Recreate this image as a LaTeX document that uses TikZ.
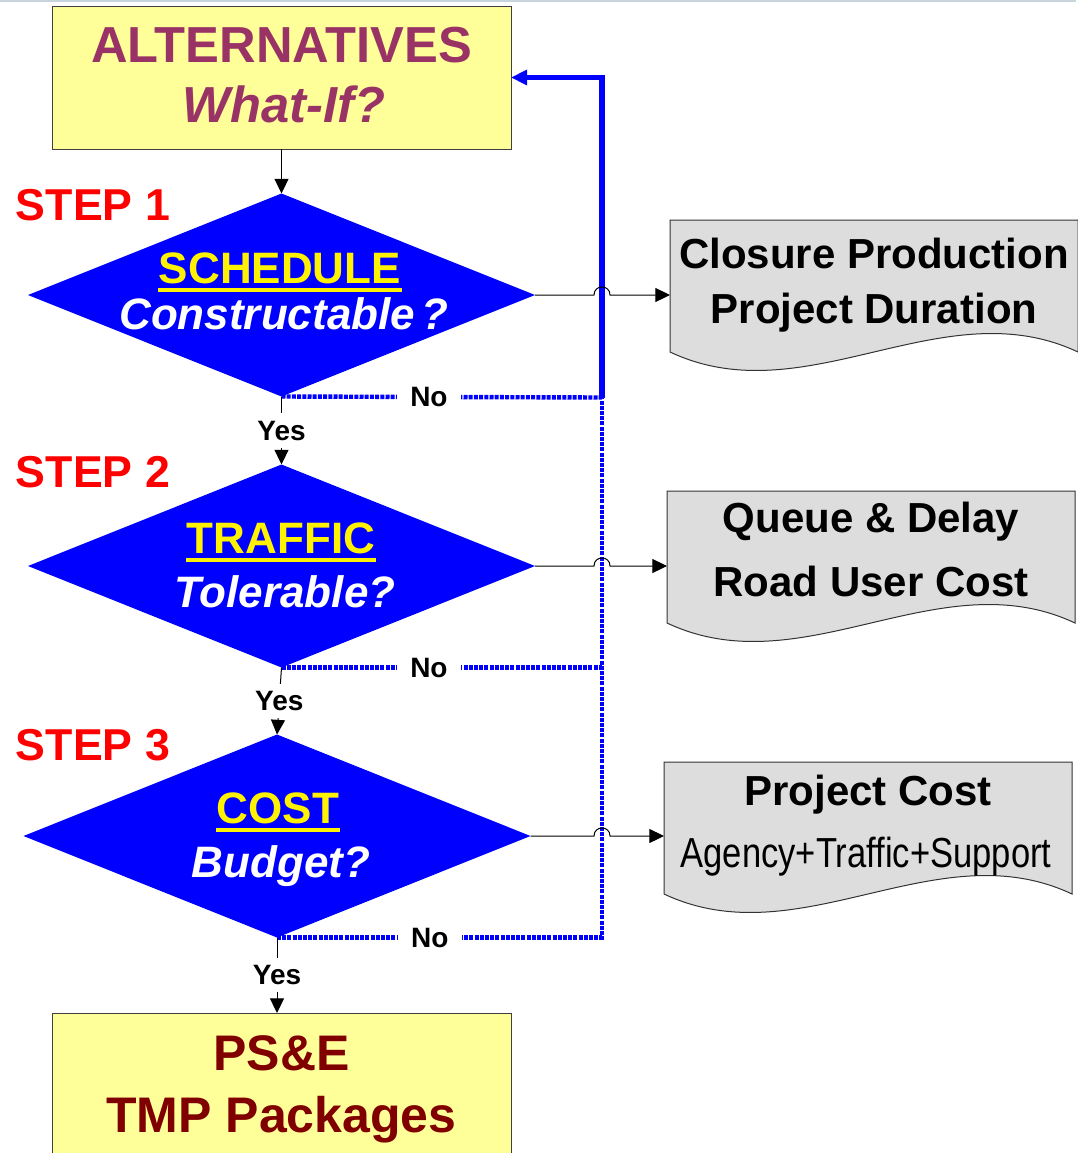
\documentclass[tikz,border=0pt]{standalone}
\usepackage{fontspec}
\setmainfont{Liberation Sans}
\usepackage{graphicx}
\usetikzlibrary{shapes.geometric,arrows.meta,calc}
\definecolor{boxyellow}{HTML}{FFFF99}
\definecolor{altpurple}{HTML}{993366}
\definecolor{psered}{HTML}{800000}
\definecolor{docgray}{HTML}{DDDDDD}
\definecolor{topline}{HTML}{C9D5DD}
\def\PX{0.75pt}
\newcommand\ulbox[1]{\setbox0\hbox{#1}\rlap{\kern-0.5pt\rule[-6.75pt]{\dimexpr\wd0+1pt\relax}{3pt}}\box0}
\begin{document}
\begin{tikzpicture}[x=0.75pt,y=-0.75pt,
  every node/.style={inner sep=0pt,outer sep=0pt},
  altbox/.style={draw=black!75,line width=0.75pt,fill=boxyellow,minimum width=459*\PX,minimum height=143*\PX},
  alttext/.style={anchor=base,text=altpurple,font=\bfseries\fontsize{38}{45}\selectfont},
  psetext/.style={anchor=base,text=psered,font=\bfseries\fontsize{37.5}{45}\selectfont},
  decision/.style={diamond,fill=blue,minimum width=507*\PX,minimum height=203*\PX},
  dtitle/.style={anchor=base,text=yellow,font=\bfseries\fontsize{33}{40}\selectfont},
  dquest/.style={anchor=base,text=white,font=\bfseries\itshape\fontsize{33}{40}\selectfont},
  steplbl/.style={anchor=base west,text=red,font=\bfseries\fontsize{33.5}{40}\selectfont},
  docarea/.style={anchor=north west,minimum width=408*\PX,minimum height=132*\PX},
  docshape/.style={draw=black!80,line width=0.75pt,fill=docgray},
  doctext/.style={anchor=base,font=\bfseries\fontsize{31.5}{38}\selectfont},
  conn/.style={draw=black,line width=0.75pt,-{Triangle[length=11pt,width=10.5pt]}},
  loopback/.style={draw=blue,line width=4pt,-{Triangle[length=12pt,width=11pt]}},
  nolink/.style={draw=blue,line width=3.3pt,dash pattern=on 3pt off 0.9pt},
  yeslbl/.style={fill=white,inner xsep=3pt,inner ysep=5.5pt,font=\bfseries\fontsize{21}{25}\selectfont},
  nolbl/.style={fill=white,inner xsep=10pt,inner ysep=3pt,font=\bfseries\fontsize{21}{25}\selectfont}
]
\useasboundingbox (0,0) rectangle (1078,1153);
\clip (0,0) rectangle (1078,1153);
\fill[white] (0,0) rectangle (1078,1153);
\draw[topline,line width=1.5pt] (0,1) -- (1076,1);

% top box
\node[altbox] (alt) at (281.5,77.5) {};
\node[alttext] (altA) at (281.5,62) {ALTERNATIVES};
\node[alttext,font=\bfseries\itshape\fontsize{38}{45}\selectfont] (altB) at (284,122) {What-If?};

% bottom box
\node[altbox] (pse) at (281.5,1084.5) {};
\node[psetext] (pseA) at (281.5,1070) {PS\&E};
\node[psetext] (pseB) at (281.5,1132) {TMP Packages};

% step labels
\node[steplbl] (s1) at (16,220) {STEP 1};
\node[steplbl] (s2) at (16,487) {STEP 2};
\node[steplbl] (s3) at (16,760) {STEP 3};

% diamonds
\node[decision] (d1) at (281.5,295) {};
\node[decision] (d2) at (281.5,566) {};
\node[decision] (d3) at (277,836) {};
\node[dtitle] (t1a) at (280,283) {\ulbox{SCHEDULE}};
\node[dquest] (t1b) at (284,329) {Constructable\kern5pt?};
\node[dtitle] (t2a) at (281,553) {\ulbox{TRAFFIC}};
\node[dquest] (t2b) at (285,607) {Tolerable?};
\node[dtitle] (t3a) at (278,823) {\ulbox{COST}};
\node[dquest] (t3b) at (281,877) {Budget?};

% document shapes
\node[docarea] (doc1) at (670,220) {};
\node[docarea] (doc2) at (667,491) {};
\node[docarea] (doc3) at (664,762) {};
\foreach \d in {doc1,doc2,doc3}{
  \draw[docshape] (\d.south west) -- (\d.north west) -- (\d.north east) -- (\d.south east)
    .. controls +(-136,-64) and +(136,64) .. (\d.south west) -- cycle;
}
\node[doctext] (x1a) at (874,268) {Closure Production};
\node[doctext] (x1b) at (874,323) {Project Duration};
\node[doctext] (x2a) at (871,532) {Queue \& Delay};
\node[doctext] (x2b) at (871,596) {Road User Cost};
\node[doctext] (x3a) at (868,805) {Project Cost};
\node[doctext,font=\fontsize{31.5}{38}\selectfont] (x3b) at (866,867) {\scalebox{0.823}[1]{Agency+Traffic+Support}};

% loop-back coordinates
\coordinate (c1) at (602,397.5);
\coordinate (c2) at (602,667.5);
\coordinate (c3) at (602,937.5);
\coordinate (ctop) at (602,77.5);

% No paths (dotted)
\draw[nolink] (d1.south) -- node[nolbl,pos=0.46] (no1) {No} (c1);
\draw[nolink] (d2.south) -- node[nolbl,pos=0.46] (no2) {No} (c2);
\draw[nolink] (d3.south) -- node[nolbl,pos=0.47] (no3) {No} (c3) -- (c1);
% solid loop back
\draw[loopback] (c1) -- (ctop) -- (alt.east);

% main flow
\draw[conn] (alt.south) -- (d1.north);
\draw[conn] (d1.south) -- node[yeslbl] (y1) {Yes} (d2.north);
\draw[conn] (d2.south) -- node[yeslbl] (y2) {Yes} (d3.north);
\draw[conn] (d3.south) -- node[yeslbl] (y3) {Yes} (d3.south |- pse.north);

% outputs with jump-overs
\foreach \d/\o in {d1/doc1,d2/doc2,d3/doc3}{
  \draw[conn] (\d.east) -- ($(ctop |- \d.east)+(-8,0)$)
    .. controls +(0,-10.7) and +(0,-10.7) .. ($(ctop |- \d.east)+(8,0)$)
    -- (\d.east -| \o.west);
}
\end{tikzpicture}
\end{document}
